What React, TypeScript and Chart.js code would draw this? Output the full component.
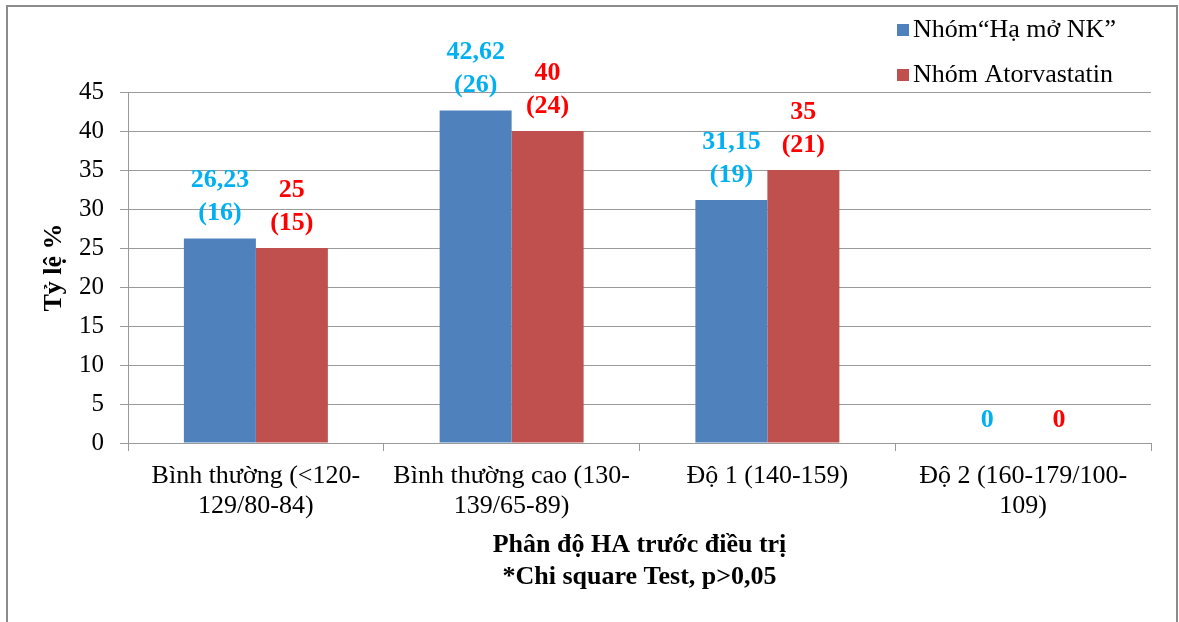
import React, { useEffect, useRef } from "react";
import { Chart, registerables } from "chart.js";

Chart.register(...registerables);

// ---- data ----
const categories: string[][] = [
  ["Bình thường (<120-", "129/80-84)"],
  ["Bình thường cao (130-", "139/65-89)"],
  ["Độ 1 (140-159)"],
  ["Độ 2 (160-179/100-", "109)"],
];
const seriesNames = ["Nhóm“Hạ mở NK”", "Nhóm Atorvastatin"];
const haMoNK = [26.23, 42.62, 31.15, 0];
const atorvastatin = [25, 40, 35, 0];
const haMoNKCount = [16, 26, 19, 0];
const atorvastatinCount = [15, 24, 21, 0];
const yMin = 0;
const yMax = 45;
const yStep = 5;
const yTitle = "Tỷ lệ %";
const xTitle = ["Phân độ HA trước điều trị", "*Chi square Test, p>0,05"];

// ---- styles ----
const barColors = ["#4F81BD", "#C0504D"];
const labelColors = ["#00B0F0", "#FF0000"];
const counts = [haMoNKCount, atorvastatinCount];
const FONT = "'Liberation Serif', 'Times New Roman', serif";
const GRID = "#9a9a9a";

const fmt = (v: number) => String(v).replace(".", ",");

const frameAndLabels = {
  id: "frameAndLabels",
  afterDatasetsDraw(chart: any) {
    const ctx = chart.ctx;
    ctx.save();
    ctx.textAlign = "center";
    ctx.textBaseline = "middle";
    ctx.font = `bold 26px ${FONT}`;
    chart.data.datasets.forEach((ds: any, di: number) => {
      const meta = chart.getDatasetMeta(di);
      meta.data.forEach((bar: any, i: number) => {
        const v = ds.data[i] as number;
        ctx.fillStyle = labelColors[di];
        if (v === 0) {
          ctx.fillText(fmt(v), bar.x, bar.y - 23);
        } else {
          ctx.fillText(fmt(v), bar.x, bar.y - 58);
          ctx.fillText(`(${counts[di][i]})`, bar.x, bar.y - 25);
        }
      });
    });
    ctx.restore();
  },
  afterDraw(chart: any) {
    const ctx = chart.ctx;
    const W = chart.width;
    const H = chart.height;
    ctx.save();
    // outer frame
    ctx.strokeStyle = "#8c8c8c";
    ctx.lineWidth = 2;
    ctx.beginPath();
    ctx.moveTo(7, H + 10);
    ctx.lineTo(7, 6);
    ctx.lineTo(W - 2, 6);
    ctx.lineTo(W - 2, H + 10);
    ctx.stroke();
    // legend
    ctx.font = `26px ${FONT}`;
    ctx.textAlign = "left";
    ctx.textBaseline = "middle";
    chart.data.datasets.forEach((ds: any, di: number) => {
      const cy = 30 + di * 45;
      ctx.fillStyle = ds.backgroundColor;
      ctx.fillRect(897, cy - 6, 12, 12);
      ctx.fillStyle = "#000";
      ctx.fillText(ds.label, 913, cy);
    });
    ctx.restore();
  },
};

export default function App() {
  const ref = useRef<HTMLCanvasElement | null>(null);

  useEffect(() => {
    document.body.style.margin = "0";
    const canvas = ref.current;
    if (!canvas) return;
    const chart = new Chart(canvas, {
      type: "bar",
      data: {
        labels: categories,
        datasets: [
          {
            label: seriesNames[0],
            data: haMoNK,
            backgroundColor: barColors[0],
            borderWidth: 0,
            categoryPercentage: 0.563,
            barPercentage: 1,
          },
          {
            label: seriesNames[1],
            data: atorvastatin,
            backgroundColor: barColors[1],
            borderWidth: 0,
            categoryPercentage: 0.563,
            barPercentage: 1,
          },
        ],
      },
      options: {
        responsive: false,
        animation: false,
        devicePixelRatio: 1,
        layout: { padding: { left: 0, right: 28, top: 92, bottom: 0 } },
        plugins: {
          legend: { display: false },
          tooltip: { enabled: false },
          title: { display: false },
        },
        scales: {
          x: {
            grid: {
              display: true,
              drawOnChartArea: false,
              drawTicks: true,
              tickLength: 8,
              color: GRID,
              offset: true,
            },
            border: { display: true, color: GRID, width: 1 },
            ticks: {
              color: "#000",
              font: { family: FONT, size: 26, lineHeight: 1.15 },
              padding: 10,
              maxRotation: 0,
              minRotation: 0,
              autoSkip: false,
            },
            title: {
              display: true,
              text: xTitle,
              color: "#000",
              font: { family: FONT, size: 26, weight: "bold", lineHeight: 1.23 },
              padding: { top: 0, bottom: 29 },
            },
            afterFit: (scale: any) => {
              scale.height = 179;
            },
          },
          y: {
            min: yMin,
            max: yMax,
            ticks: {
              stepSize: yStep,
              color: "#000",
              font: { family: FONT, size: 25 },
              padding: 16,
            },
            grid: {
              color: GRID,
              tickLength: 8,
              drawTicks: true,
            },
            border: { display: true, color: GRID, width: 1 },
            title: {
              display: true,
              text: yTitle,
              color: "#000",
              font: { family: FONT, size: 26, weight: "bold", lineHeight: 1.2 },
              padding: { top: 39, bottom: 0 },
            },
            afterFit: (scale: any) => {
              scale.width = 128;
            },
          },
        },
      },
      plugins: [frameAndLabels],
    });
    return () => chart.destroy();
  }, []);

  return (
    <div style={{ width: 1179, height: 622, overflow: "hidden", background: "#fff" }}>
      <canvas ref={ref} width={1179} height={622} style={{ display: "block" }} />
    </div>
  );
}
